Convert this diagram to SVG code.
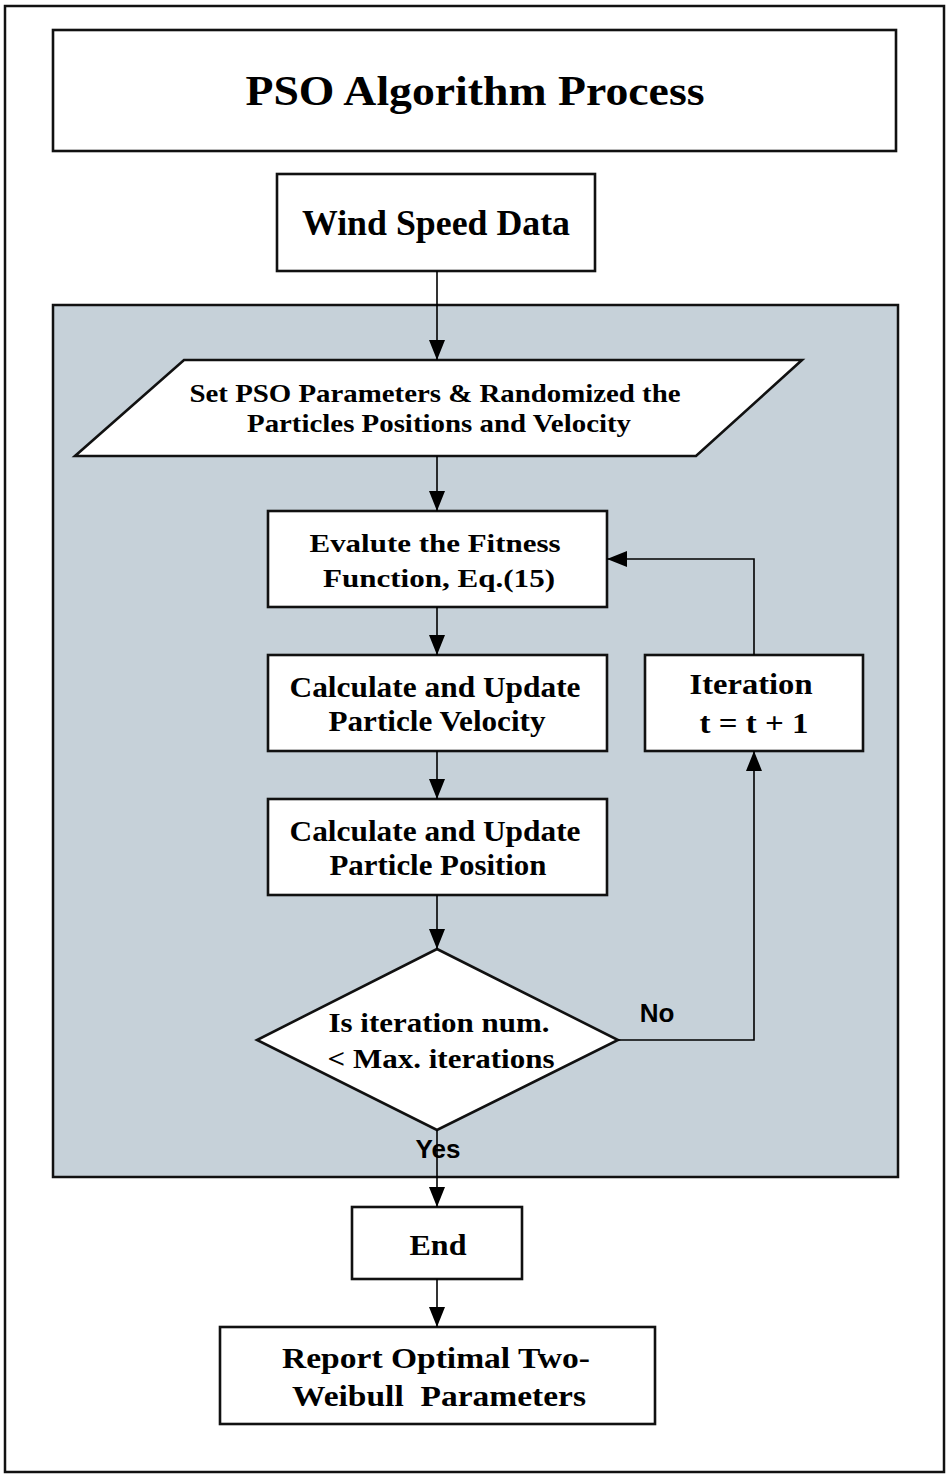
<svg xmlns="http://www.w3.org/2000/svg" width="950" height="1478" viewBox="0 0 950 1478">
<style>
.box{fill:#fff;stroke:#111;stroke-width:2.6}
.t{font-family:"Liberation Serif","Times New Roman",serif;font-weight:bold;fill:#000;text-anchor:middle}
.s{font-family:"Liberation Sans",Arial,sans-serif;font-weight:bold;fill:#000;text-anchor:middle}
.c{fill:none;stroke:#000;stroke-width:1.6}
</style>
<defs>
<marker id="ah" markerUnits="userSpaceOnUse" markerWidth="20" markerHeight="16" refX="20" refY="8" orient="auto">
<path d="M0,0 L20,8 L0,16 z" fill="#000"/>
</marker>
</defs>
<rect x="0" y="0" width="950" height="1478" fill="#fff"/>
<rect x="5" y="6" width="939" height="1466" fill="none" stroke="#111" stroke-width="2.5"/>
<g id="title">
<rect class="box" x="53" y="30" width="843" height="121"/>
<text class="t" x="475" y="105" font-size="43" textLength="459" lengthAdjust="spacingAndGlyphs">PSO Algorithm Process</text>
</g>
<g id="wind">
<rect class="box" x="277" y="174" width="318" height="97"/>
<text class="t" x="436" y="235" font-size="35" textLength="268" lengthAdjust="spacingAndGlyphs">Wind Speed Data</text>
</g>
<g id="panel">
<rect x="53" y="305" width="845" height="872" fill="#c6d1d9" stroke="#111" stroke-width="2.5"/>
</g>
<g id="setparams">
<polygon class="box" points="184,360 802,360 696,456 75,456"/>
<text class="t" x="435" y="402" font-size="26" textLength="491" lengthAdjust="spacingAndGlyphs">Set PSO Parameters &amp; Randomized the</text>
<text class="t" x="439" y="432" font-size="26" textLength="384" lengthAdjust="spacingAndGlyphs">Particles Positions and Velocity</text>
</g>
<g id="fitness">
<rect class="box" x="268" y="511" width="339" height="96"/>
<text class="t" x="435" y="552" font-size="26" textLength="251" lengthAdjust="spacingAndGlyphs">Evalute the Fitness</text>
<text class="t" x="439" y="587" font-size="26" textLength="232" lengthAdjust="spacingAndGlyphs">Function, Eq.(15)</text>
</g>
<g id="velocity">
<rect class="box" x="268" y="655" width="339" height="96"/>
<text class="t" x="435" y="697" font-size="29" textLength="291" lengthAdjust="spacingAndGlyphs">Calculate and Update</text>
<text class="t" x="437" y="731" font-size="29" textLength="217" lengthAdjust="spacingAndGlyphs">Particle Velocity</text>
</g>
<g id="position">
<rect class="box" x="268" y="799" width="339" height="96"/>
<text class="t" x="435" y="841" font-size="29" textLength="291" lengthAdjust="spacingAndGlyphs">Calculate and Update</text>
<text class="t" x="438" y="875" font-size="29" textLength="217" lengthAdjust="spacingAndGlyphs">Particle Position</text>
</g>
<g id="iteration">
<rect class="box" x="645" y="655" width="218" height="96"/>
<text class="t" x="751" y="694" font-size="29" textLength="123" lengthAdjust="spacingAndGlyphs">Iteration</text>
<text class="t" x="754" y="733" font-size="29" textLength="109" lengthAdjust="spacingAndGlyphs">t = t + 1</text>
</g>
<g id="decision">
<polygon class="box" points="437,949 618,1040 437,1130 257,1040"/>
<text class="t" x="439" y="1032" font-size="27" textLength="221" lengthAdjust="spacingAndGlyphs">Is iteration num.</text>
<text class="t" x="441" y="1068" font-size="27" textLength="227" lengthAdjust="spacingAndGlyphs">&lt; Max. iterations</text>
</g>
<g id="end">
<rect class="box" x="352" y="1207" width="170" height="72"/>
<text class="t" x="438" y="1255" font-size="29" textLength="57" lengthAdjust="spacingAndGlyphs">End</text>
</g>
<g id="report">
<rect class="box" x="220" y="1327" width="435" height="97"/>
<text class="t" x="436" y="1368" font-size="29" textLength="308" lengthAdjust="spacingAndGlyphs">Report Optimal Two-</text>
<text class="t" x="439" y="1406" font-size="29" textLength="294" lengthAdjust="spacingAndGlyphs" xml:space="preserve">Weibull  Parameters</text>
</g>
<g id="connectors">
<path class="c" d="M437,271 V360" marker-end="url(#ah)"/>
<path class="c" d="M437,456 V511" marker-end="url(#ah)"/>
<path class="c" d="M437,607 V655" marker-end="url(#ah)"/>
<path class="c" d="M437,751 V799" marker-end="url(#ah)"/>
<path class="c" d="M437,895 V949" marker-end="url(#ah)"/>
<path class="c" d="M618,1040 H754 V751" marker-end="url(#ah)"/>
<path class="c" d="M754,655 V559 H607" marker-end="url(#ah)"/>
<path class="c" d="M437,1130 V1207" marker-end="url(#ah)"/>
<path class="c" d="M437,1279 V1327" marker-end="url(#ah)"/>
<text class="s" x="657" y="1022" font-size="26">No</text>
<text class="s" x="438" y="1158" font-size="26">Yes</text>
</g>
</svg>
